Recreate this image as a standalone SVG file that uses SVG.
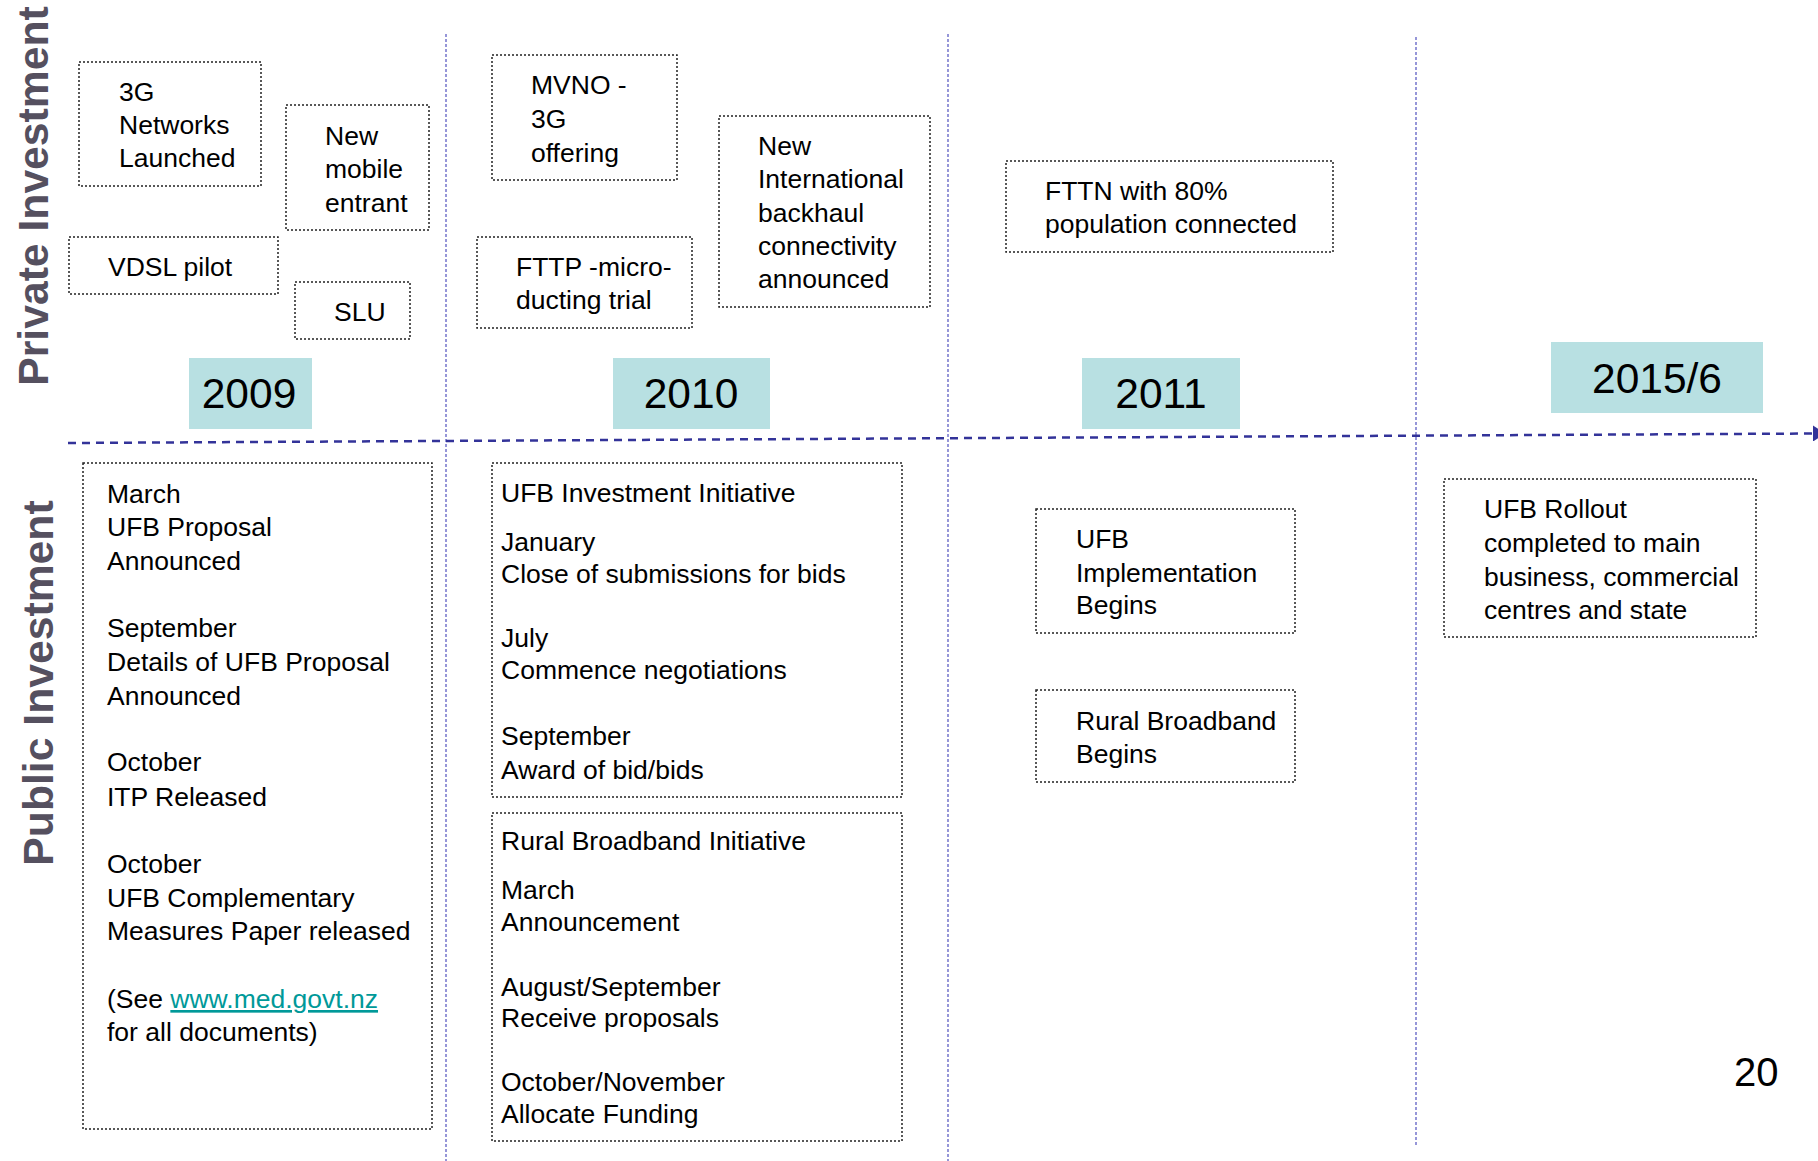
<svg xmlns="http://www.w3.org/2000/svg" width="1818" height="1161" viewBox="0 0 1818 1161">
<style>
.bx{fill:none;stroke:#222;stroke-width:1.5;stroke-dasharray:2 2}
.t{font-family:"Liberation Sans",Arial,sans-serif;font-size:26.5px;fill:#000}
.yr{fill:#B8E0E2}
.yt{font-family:"Liberation Sans",Arial,sans-serif;font-size:42.5px;fill:#000;text-anchor:middle}
.side{font-family:"Liberation Sans",Arial,sans-serif;font-size:42.7px;font-weight:bold;fill:#55505F;text-anchor:middle}
.vl{stroke:#7474CC;stroke-width:1.5;stroke-dasharray:3 2;fill:none}
.link{fill:#009999;text-decoration:underline}
</style>
<defs>
<marker id="arr" markerWidth="12" markerHeight="16" refX="0" refY="8" orient="auto" markerUnits="userSpaceOnUse">
<path d="M0,0 L12,8 L0,16 Z" fill="#333399"/>
</marker>
</defs>
<rect width="1818" height="1161" fill="#fff"/>

<g id="side-labels">
<text class="side" transform="translate(48,196) rotate(-90)">Private Investment</text>
<text class="side" transform="translate(53,683) rotate(-90)">Public Investment</text>
</g>

<g id="connectors">
<line class="vl" x1="446" y1="34" x2="446" y2="1161"/>
<line class="vl" x1="948" y1="34" x2="948" y2="1161"/>
<line class="vl" x1="1416" y1="37" x2="1416" y2="1145"/>
<line x1="68" y1="443" x2="1813" y2="433.5" stroke="#333399" stroke-width="2.5" stroke-dasharray="8 6" marker-end="url(#arr)"/>
</g>

<g id="n-3g"><rect class="bx" x="79" y="62" width="182" height="124"/>
<text class="t" x="119" y="101">3G</text><text class="t" x="119" y="134">Networks</text><text class="t" x="119" y="167">Launched</text></g>
<g id="n-newmobile"><rect class="bx" x="286" y="105" width="143" height="125"/>
<text class="t" x="325" y="145">New</text><text class="t" x="325" y="178">mobile</text><text class="t" x="325" y="212">entrant</text></g>
<g id="n-vdsl"><rect class="bx" x="69" y="237" width="209" height="57"/>
<text class="t" x="108" y="276">VDSL pilot</text></g>
<g id="n-slu"><rect class="bx" x="295" y="282" width="115" height="57"/>
<text class="t" x="334" y="321">SLU</text></g>
<g id="n-mvno"><rect class="bx" x="492" y="55" width="185" height="125"/>
<text class="t" x="531" y="94">MVNO -</text><text class="t" x="531" y="128">3G</text><text class="t" x="531" y="162">offering</text></g>
<g id="n-fttp"><rect class="bx" x="477" y="237" width="215" height="91"/>
<text class="t" x="516" y="276">FTTP -micro-</text><text class="t" x="516" y="309">ducting trial</text></g>
<g id="n-intl"><rect class="bx" x="719" y="116" width="211" height="191"/>
<text class="t" x="758" y="155">New</text><text class="t" x="758" y="188">International</text><text class="t" x="758" y="222">backhaul</text><text class="t" x="758" y="255">connectivity</text><text class="t" x="758" y="288">announced</text></g>
<g id="n-fttn"><rect class="bx" x="1006" y="161" width="327" height="91"/>
<text class="t" x="1045" y="200">FTTN with 80%</text><text class="t" x="1045" y="233">population connected</text></g>

<g id="y-2009"><rect class="yr" x="189" y="358" width="123" height="71"/><text class="yt" x="249" y="408">2009</text></g>
<g id="y-2010"><rect class="yr" x="613" y="358" width="157" height="71"/><text class="yt" x="691" y="408">2010</text></g>
<g id="y-2011"><rect class="yr" x="1082" y="358" width="158" height="71"/><text class="yt" x="1161" y="408">2011</text></g>
<g id="y-2015"><rect class="yr" x="1551" y="342" width="212" height="71"/><text class="yt" x="1657" y="393">2015/6</text></g>

<g id="n-pub2009"><rect class="bx" x="83" y="463" width="349" height="666"/>
<text class="t" x="107" y="503">March</text>
<text class="t" x="107" y="536">UFB Proposal</text>
<text class="t" x="107" y="570">Announced</text>
<text class="t" x="107" y="637">September</text>
<text class="t" x="107" y="671">Details of UFB Proposal</text>
<text class="t" x="107" y="705">Announced</text>
<text class="t" x="107" y="771">October</text>
<text class="t" x="107" y="806">ITP Released</text>
<text class="t" x="107" y="873">October</text>
<text class="t" x="107" y="907">UFB Complementary</text>
<text class="t" x="107" y="940">Measures Paper released</text>
<text class="t" x="107" y="1008">(See <tspan class="link">www.med.govt.nz</tspan></text>
<text class="t" x="107" y="1041">for all documents)</text>
</g>

<g id="n-ufb2010"><rect class="bx" x="492" y="463" width="410" height="334"/>
<text class="t" x="501" y="502">UFB Investment Initiative</text>
<text class="t" x="501" y="551">January</text>
<text class="t" x="501" y="583">Close of submissions for bids</text>
<text class="t" x="501" y="647">July</text>
<text class="t" x="501" y="679">Commence negotiations</text>
<text class="t" x="501" y="745">September</text>
<text class="t" x="501" y="779">Award of bid/bids</text>
</g>

<g id="n-rural2010"><rect class="bx" x="492" y="813" width="410" height="328"/>
<text class="t" x="501" y="850">Rural Broadband Initiative</text>
<text class="t" x="501" y="899">March</text>
<text class="t" x="501" y="931">Announcement</text>
<text class="t" x="501" y="996">August/September</text>
<text class="t" x="501" y="1027">Receive proposals</text>
<text class="t" x="501" y="1091">October/November</text>
<text class="t" x="501" y="1123">Allocate Funding</text>
</g>

<g id="n-ufbimpl"><rect class="bx" x="1036" y="509" width="259" height="124"/>
<text class="t" x="1076" y="548">UFB</text><text class="t" x="1076" y="582">Implementation</text><text class="t" x="1076" y="614">Begins</text></g>
<g id="n-ruralbegins"><rect class="bx" x="1036" y="690" width="259" height="92"/>
<text class="t" x="1076" y="730">Rural Broadband</text><text class="t" x="1076" y="763">Begins</text></g>
<g id="n-rollout"><rect class="bx" x="1444" y="479" width="312" height="158"/>
<text class="t" x="1484" y="518">UFB Rollout</text><text class="t" x="1484" y="552">completed to main</text><text class="t" x="1484" y="586">business, commercial</text><text class="t" x="1484" y="619">centres and state</text></g>

<g id="page-number"><text x="1734" y="1086" font-family="Liberation Sans, Arial, sans-serif" font-size="40" fill="#000">20</text></g>
</svg>
